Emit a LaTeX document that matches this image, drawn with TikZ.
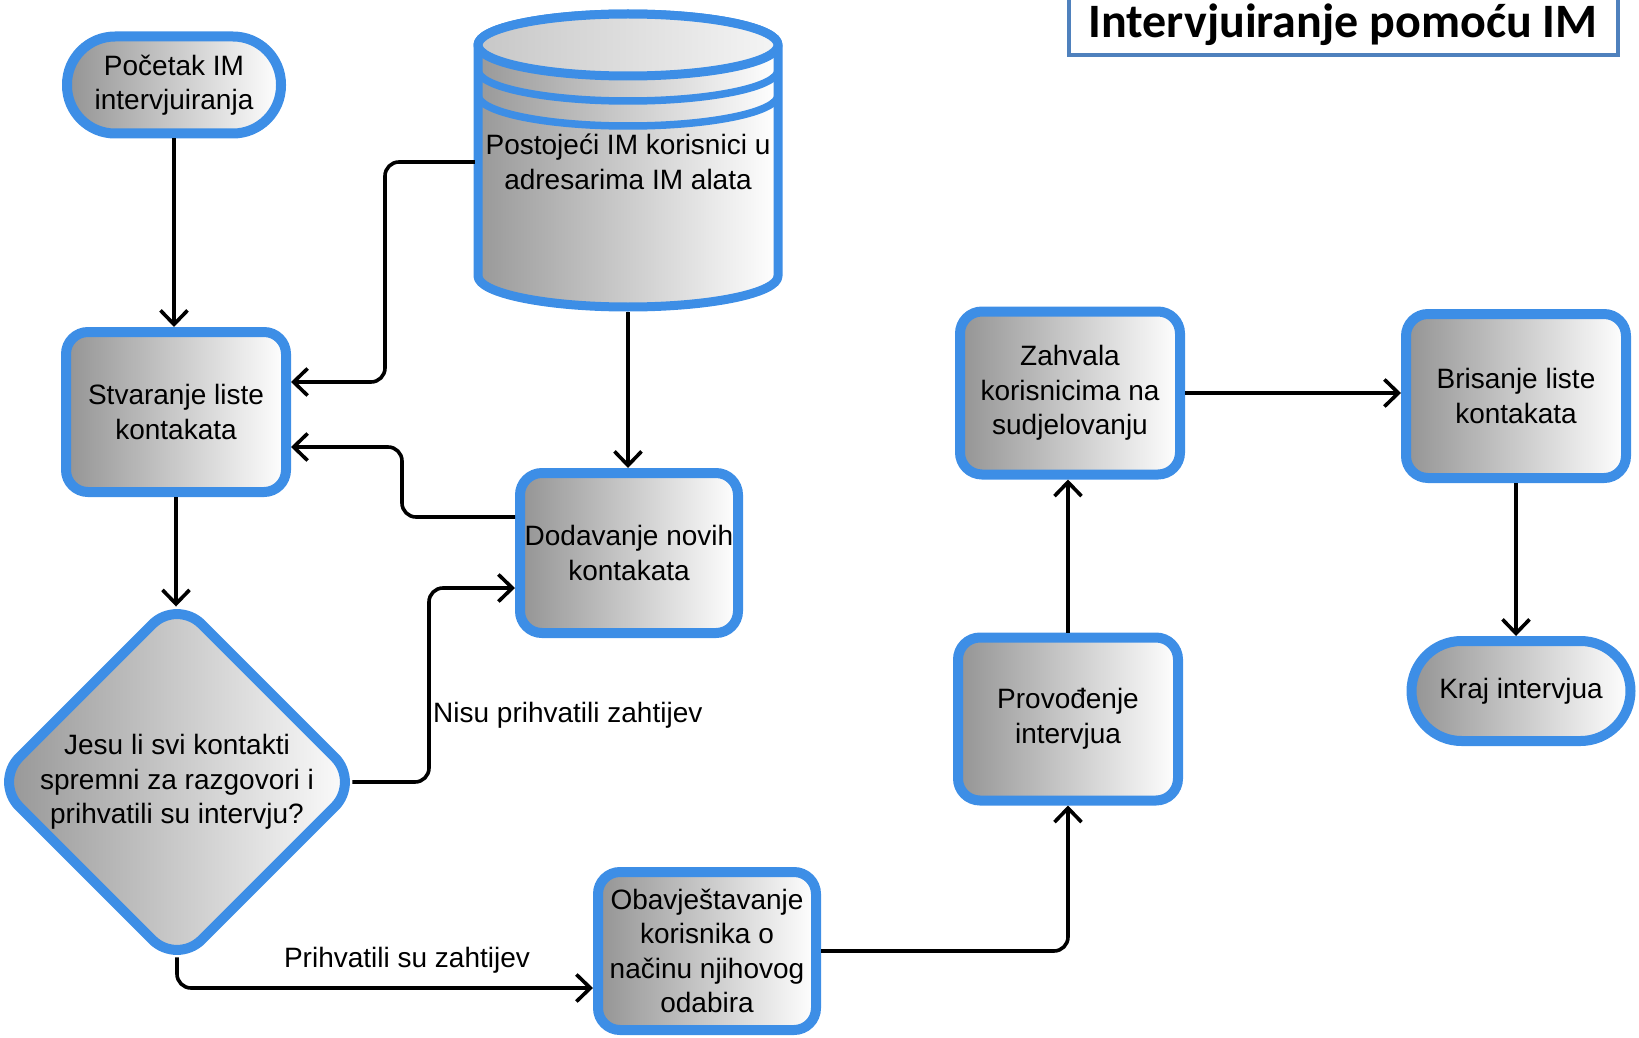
\documentclass[tikz,border=0pt]{standalone}
\usepackage{fontspec}
\setmainfont{Liberation Sans}
\newfontfamily\titlefont{Carlito}
\usetikzlibrary{arrows.meta,shapes.geometric,calc}
\definecolor{bblue}{HTML}{3D8EE6}
\definecolor{tblue}{HTML}{4F81BD}
\begin{document}
\begin{tikzpicture}[x=1pt,y=-1pt,
  txt/.style={font=\fontsize{28}{34.5}\selectfont, align=center},
  box/.style={txt, rectangle, rounded corners=22pt, draw=bblue, line width=10pt,
    left color=black!42, right color=white, inner sep=2pt},
  stadium/.style={box, rounded corners=48pt},
  decision/.style={txt, diamond, rounded corners=35pt, draw=bblue, line width=10pt,
    left color=black!42, right color=white, inner sep=0pt,
    minimum width=354pt, minimum height=348pt},
  lbl/.style={txt, inner sep=0pt},
  conn/.style={line width=3.6pt, rounded corners=14pt,
    -{Straight Barb[length=14pt,width=27pt,line width=3.6pt]}},
  cylline/.style={draw=bblue, line width=9pt, line join=round},
  bandline/.style={draw=bblue, line width=7.5pt},
  titlebox/.style={draw=tblue, line width=4pt, fill=white, inner sep=0pt,
    minimum width=549pt, minimum height=66pt, text height=40pt, text depth=8pt,
    font=\titlefont\bfseries\fontsize{48}{56}\selectfont}
]
\useasboundingbox (0,0) rectangle (1639,1038);

% title
\node[titlebox] (title) at (1343,22) {Intervjuiranje pomoću IM};

% cylinder (database)
\path[cylline, left color=black!40, right color=white]
  (478,45) -- (478,276) arc[start angle=180, end angle=0, x radius=150, y radius=31]
  -- (778,45) arc[start angle=0, end angle=-180, x radius=150, y radius=31] -- cycle;
\path[cylline, left color=black!22, right color=black!4]
  (628,45) ellipse[x radius=150, y radius=31];
\draw[bandline] (478,70) arc[start angle=180, end angle=0, x radius=150, y radius=31];
\draw[bandline] (478,95) arc[start angle=180, end angle=0, x radius=150, y radius=31];
\node[txt, minimum width=306pt, minimum height=300pt, inner sep=0pt] (cyl) at (628,162)
  {Postojeći IM korisnici u\\adresarima IM alata};

% nodes
\node[stadium, minimum width=214pt, minimum height=97pt] (start) at (174,85)
  {Početak IM\\intervjuiranja};
\node[box, minimum width=220pt, minimum height=160pt] (stv) at (176,412)
  {Stvaranje liste\\kontakata};
\node[box, minimum width=218pt, minimum height=160pt] (dod) at (629,553)
  {Dodavanje novih\\kontakata};
\node[decision] (dia) at (177,782)
  {Jesu li svi kontakti\\spremni za razgovori i\\prihvatili su intervju?};
\node[box, minimum width=218pt, minimum height=158pt] (oba) at (707,951)
  {Obavještavanje\\korisnika o\\načinu njihovog\\odabira};
\node[box, minimum width=220pt, minimum height=163pt] (prov) at (1068,719)
  {Provođenje\\intervjua};
\node[box, minimum width=220pt, minimum height=163pt] (zah) at (1070,393)
  {Zahvala\\korisnicima na\\sudjelovanju};
\node[box, minimum width=220pt, minimum height=164pt] (bris) at (1516,396)
  {Brisanje liste\\kontakata};
\node[stadium, rounded corners=50pt, minimum width=219pt, minimum height=100pt] (kraj) at (1521,691)
  {Kraj intervjua};

% connectors
\draw[conn] (start.south) -- (start.south |- stv.north);
\draw[conn] (cyl.west) -| (385,382) -- (stv.east |- 0,382);
\draw[conn] (cyl.south) -- (cyl.south |- dod.north);
\draw[conn] (dod.west |- 0,517) -| (402,447) -- (stv.east |- 0,447);
\draw[conn] (stv.south) -- ($(stv.south |- dia.north)+(0,14)$);
\draw[conn] ($(dia.east)+(-14,0)$) -| (429,588) -- (dod.west |- 0,588);
\node[lbl, anchor=west] (l1) at (433,715) {Nisu prihvatili zahtijev};
\draw[conn] ($(dia.south)+(0,-14)$) |- (oba.west |- 0,988);
\node[lbl] (l2) at (407,960) {Prihvatili su zahtijev};
\draw[conn] (oba.east) -| (prov.south);
\draw[conn] (prov.north) -- (prov.north |- zah.south);
\draw[conn] (zah.east) -- (zah.east -| bris.west);
\draw[conn] (bris.south) -- (bris.south |- kraj.north);
\end{tikzpicture}
\end{document}
